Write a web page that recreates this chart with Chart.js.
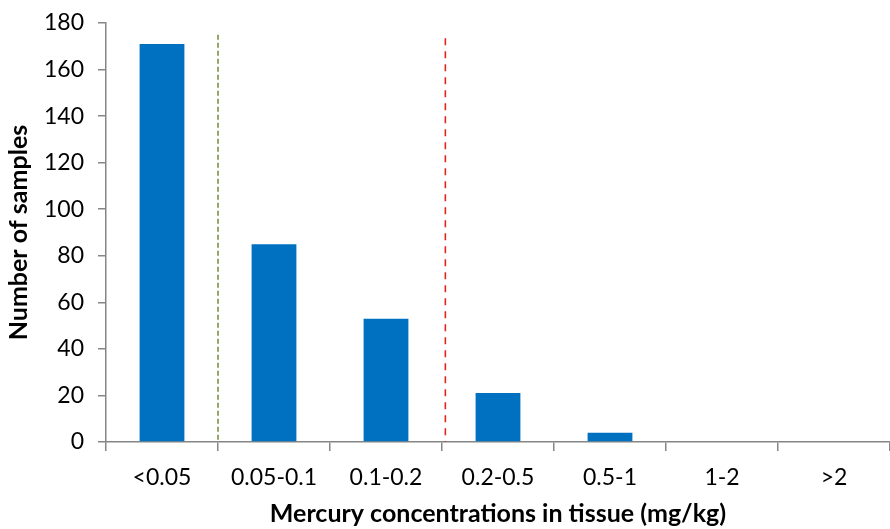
<!DOCTYPE html>
<html>
<head>
<meta charset="utf-8">
<script src="https://cdn.jsdelivr.net/npm/chart.js@4"></script>
<style>
  html, body { margin: 0; padding: 0; background: #fff; }
  #wrap { width: 890px; height: 529px; }
</style>
</head>
<body>
<div id="wrap"><canvas id="myChart" width="890" height="529"></canvas></div>
<script>
// categories and counts
var categories = ["<0.05", "0.05-0.1", "0.1-0.2", "0.2-0.5", "0.5-1", "1-2", ">2"];
var samples = [171, 85, 53, 21, 4, 0, 0];
var yTicks = [0, 20, 40, 60, 80, 100, 120, 140, 160, 180];

// the two dashed threshold lines (position in category units, top in y units)
var lineAt = [0.5, 2.53];
var lineTop = [175, 173.5];
var lineColor = ["#77933C", "#E3231E"];
var lineDash = [[5, 3], [7, 6]];

var ctx = document.getElementById("myChart").getContext("2d");

var thresholdLines = {
    id: "thresholdLines",
    afterDatasetsDraw: function (chart) {
        var x = chart.scales.x, y = chart.scales.y, c = chart.ctx;
        lineAt.forEach(function (pos, i) {
            var px = x.getPixelForValue(pos);
            c.save();
            c.strokeStyle = lineColor[i];
            c.lineWidth = 1.6;
            c.setLineDash(lineDash[i]);
            c.beginPath();
            c.moveTo(px, y.getPixelForValue(lineTop[i]));
            c.lineTo(px, y.getPixelForValue(0));
            c.stroke();
            c.restore();
        });
    }
};

var axisColor = "#868686";
var tickFont = { family: "Lato", size: 23 };
var titleFont = { family: "Lato", size: 25, weight: "bold" };

var barChart = new Chart(ctx, {
    type: "bar",
    data: {
        labels: categories,
        datasets: [{
            data: samples,
            backgroundColor: "#0070C0",
            categoryPercentage: 0.4,
            barPercentage: 1.0
        }]
    },
    options: {
        responsive: false,
        animation: false,
        layout: { padding: { top: 23, right: 0, left: 0, bottom: 0 } },
        plugins: { legend: { display: false }, tooltip: { enabled: false } },
        scales: {
            x: {
                offset: true,
                grid: { offset: true, drawOnChartArea: false, drawTicks: true, tickLength: 9, color: axisColor, lineWidth: 1.5 },
                border: { color: axisColor, width: 1.5 },
                ticks: { color: "#000", padding: 13, font: tickFont, maxRotation: 0 },
                title: { display: true, text: "Mercury concentrations in tissue (mg/kg)", color: "#000", font: titleFont, padding: { top: 4, bottom: 0 } },
                afterFit: function (s) { s.height = 87; s.paddingLeft = 0; s.paddingRight = 0; }
            },
            y: {
                min: 0,
                max: 180,
                afterBuildTicks: function (s) { s.ticks = yTicks.map(function (v) { return { value: v }; }); },
                grid: { drawOnChartArea: false, drawTicks: true, tickLength: 8, color: axisColor, lineWidth: 1.5 },
                border: { color: axisColor, width: 1.5 },
                ticks: { color: "#000", padding: 14, font: tickFont },
                title: { display: true, text: "Number of samples", color: "#000", font: titleFont, padding: { top: 4, bottom: 4 } },
                afterFit: function (s) { s.width = 106; s.paddingTop = 0; s.paddingBottom = 0; }
            }
        }
    },
    plugins: [thresholdLines]
});
</script>
</body>
</html>
